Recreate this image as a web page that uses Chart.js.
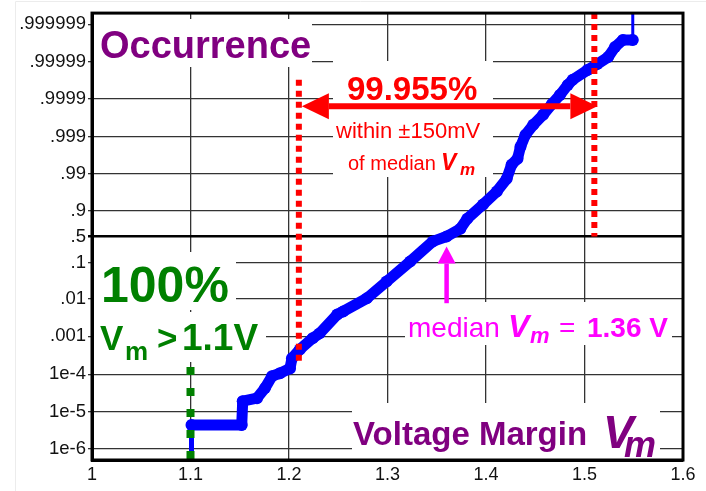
<!DOCTYPE html>
<html>
<head>
<meta charset="utf-8">
<script src="https://cdn.jsdelivr.net/npm/chart.js@4.4.1/dist/chart.umd.min.js"></script>
<style>
  html, body { margin: 0; padding: 0; background: #fff; }
  #wrap { position: relative; width: 706px; height: 491px; }
</style>
</head>
<body>
<div id="wrap"><canvas id="c"></canvas></div>
<script>
// Cumulative occurrence of the voltage margin Vm on a probability-style axis.

// Probability axis: tick labels and where each sits on the axis.
const probTickLabels = ['1e-6', '1e-5', '1e-4', '.001', '.01', '.1', '.5', '.9', '.99', '.999', '.9999', '.99999', '.999999'];
const probTickPos    = [-5.7, -4.7, -3.7, -2.68, -1.68, -0.7, 0, 0.7, 1.68, 2.68, 3.7, 4.7, 5.7];

// Voltage axis ticks (V).
const voltTicks = [1, 1.1, 1.2, 1.3, 1.4, 1.5, 1.6];

// Measured distribution: voltage margin (V) and its position on the probability axis.
const marginV = [1.101, 1.152, 1.153, 1.1675, 1.1756, 1.1827, 1.1909, 1.201, 1.203, 1.211,
                 1.224, 1.231, 1.249, 1.255, 1.279, 1.299, 1.323, 1.346, 1.36, 1.374,
                 1.381, 1.397, 1.411, 1.421, 1.426, 1.432, 1.435, 1.44, 1.448, 1.458,
                 1.467, 1.475, 1.483, 1.488, 1.503, 1.513, 1.524, 1.531, 1.539, 1.549];
const occurrencePos = [-5.06, -5.06, -4.42, -4.34, -4.07, -3.75, -3.67, -3.54, -3.27, -3.03,
                       -2.73, -2.60, -2.09, -2.01, -1.66, -1.21, -0.67, -0.13, 0, 0.21,
                       0.48, 0.86, 1.21, 1.55, 1.93, 2.09, 2.41, 2.73, 3.0, 3.27,
                       3.56, 3.80, 4.07, 4.21, 4.47, 4.63, 4.82, 5.09, 5.28, 5.28];

// Lowest and highest samples run off the ends of the axis.
const floorV = [1.101, 1.101];
const floorPos = [-6.6, -5.06];
const tailV = [1.549, 1.549];
const tailPos = [5.28, 6.6];

// Summary figures.
const medianV = 1.36;
const windowHalfV = 0.15;
const withinShare = '99.955%';
const allAboveV = 1.1;

const FAM = '"Liberation Sans", Arial, Helvetica, sans-serif';
const PURPLE = '#800080';
const GREEN = '#008000';
const RED = '#ff0000';
const MAGENTA = '#ff00ff';
const BLUE = '#0000ff';

const pts = (xs, ys) => xs.map((x, i) => ({ x, y: ys[i] }));

const lowEdge = medianV - windowHalfV;
const highEdge = medianV + windowHalfV;

// Annotation text: white backing boxes (px) and text runs.
const TEXTS = [
  { box: [94, 19, 312, 67], runs: [
    { t: 'Occurrence', f: 'bold 38px', c: PURPLE, x: 100, y: 58 } ] },
  { box: [94, 252, 236, 310], runs: [
    { t: '100%', f: 'bold 50px', c: GREEN, x: 101, y: 302 } ] },
  { box: [94, 312, 266, 362], runs: [
    { t: 'V', f: 'bold 35px', c: GREEN, x: 100, y: 350 },
    { t: 'm', f: 'bold 26px', c: GREEN, x: 125, y: 360 },
    { t: '>', f: 'bold 35px', c: GREEN, x: 157, y: 350 },
    { t: allAboveV + 'V', f: 'bold 37px', c: GREEN, x: 182, y: 350 } ] },
  { box: [333, 61, 493, 177], runs: [
    { t: withinShare, f: 'bold 33px', c: RED, x: 347, y: 100 },
    { t: 'within \u00b1' + Math.round(windowHalfV * 1000) + 'mV', f: '22px', c: RED, x: 336, y: 138 },
    { t: 'of median', f: '20px', c: RED, x: 348, y: 170 },
    { t: 'V', f: 'italic bold 23px', c: RED, x: 441, y: 170 },
    { t: 'm', f: 'italic bold 17px', c: RED, x: 460, y: 175 } ] },
  { box: [405, 302, 672, 345], runs: [
    { t: 'median', f: '28px', c: MAGENTA, x: 408, y: 337 },
    { t: 'V', f: 'italic bold 32px', c: MAGENTA, x: 508, y: 337 },
    { t: 'm', f: 'italic bold 22px', c: MAGENTA, x: 530, y: 343 },
    { t: '=', f: '28px', c: MAGENTA, x: 559, y: 337 },
    { t: medianV.toFixed(2) + ' V', f: 'bold 28px', c: MAGENTA, x: 587, y: 337 } ] },
  { box: [352, 403, 660, 459], runs: [
    { t: 'Voltage Margin', f: 'bold 33px', c: PURPLE, x: 353, y: 445 },
    { t: 'V', f: 'italic bold 46px', c: PURPLE, x: 603, y: 448 },
    { t: 'm', f: 'italic bold 36px', c: PURPLE, x: 624, y: 457 } ] }
];

function arrow(ctx, x1, y1, x2, y2, shaft, headLen, headHalf, color, both) {
  const ang = Math.atan2(y2 - y1, x2 - x1);
  const cos = Math.cos(ang), sin = Math.sin(ang);
  const sx = both ? x1 + cos * headLen : x1, sy = both ? y1 + sin * headLen : y1;
  const ex = x2 - cos * headLen, ey = y2 - sin * headLen;
  ctx.save();
  ctx.strokeStyle = color; ctx.fillStyle = color;
  ctx.lineWidth = shaft; ctx.lineCap = 'butt';
  ctx.beginPath(); ctx.moveTo(sx, sy); ctx.lineTo(ex, ey); ctx.stroke();
  const head = (tx, ty, dir) => {
    const bx = tx - dir * cos * headLen, by = ty - dir * sin * headLen;
    ctx.beginPath();
    ctx.moveTo(tx, ty);
    ctx.lineTo(bx - sin * headHalf, by + cos * headHalf);
    ctx.lineTo(bx + sin * headHalf, by - cos * headHalf);
    ctx.closePath(); ctx.fill();
  };
  head(x2, y2, 1);
  if (both) head(x1, y1, -1);
  ctx.restore();
}

const annotations = {
  id: 'annotations',
  beforeDraw(chart) {
    const ctx = chart.ctx;
    ctx.save();
    ctx.strokeStyle = '#ececec'; ctx.lineWidth = 1;
    ctx.beginPath();
    ctx.moveTo(15.5, 491); ctx.lineTo(15.5, 1.5); ctx.lineTo(706, 1.5);
    ctx.stroke();
    ctx.restore();
  },
  beforeDatasetsDraw(chart) {
    const ctx = chart.ctx;
    ctx.save();
    ctx.fillStyle = '#ffffff';
    TEXTS.forEach(g => {
      const [l, t, r, b] = g.box;
      ctx.fillRect(l, t, r - l, b - t);
    });
    ctx.restore();
  },
  afterDatasetsDraw(chart) {
    const ctx = chart.ctx;
    const xs = chart.scales.x, ys = chart.scales.y;
    // ±150 mV window around the median
    arrow(ctx, xs.getPixelForValue(lowEdge) + 3, ys.getPixelForValue(3.5),
               xs.getPixelForValue(highEdge) + 3, ys.getPixelForValue(3.5),
               6, 27, 13, RED, true);
    // pointer to the median crossing
    arrow(ctx, xs.getPixelForValue(medianV), ys.getPixelForValue(-1.79),
               xs.getPixelForValue(medianV), ys.getPixelForValue(-0.27),
               4.5, 17, 9, MAGENTA, false);
    ctx.save();
    ctx.textBaseline = 'alphabetic';
    ctx.textAlign = 'left';
    TEXTS.forEach(g => g.runs.forEach(r => {
      ctx.font = r.f + ' ' + FAM;
      ctx.fillStyle = r.c;
      ctx.fillText(r.t, r.x, r.y);
    }));
    ctx.restore();
  },
  afterDraw(chart) {
    const { left, top, right, bottom } = chart.chartArea;
    const ctx = chart.ctx;
    ctx.save();
    ctx.strokeStyle = '#000'; ctx.lineWidth = 3;
    ctx.strokeRect(left, top, right - left, bottom - top);
    ctx.restore();
  }
};

new Chart(document.getElementById('c'), {
  type: 'scatter',
  data: {
    datasets: [
      { // all samples above 1.1 V
        data: pts([allAboveV, allAboveV], [-3.5, -6]),
        showLine: true, borderColor: GREEN, borderWidth: 8, borderDash: [8, 13],
        borderCapStyle: 'butt', pointRadius: 0
      },
      { // lower edge of the window
        data: pts([lowEdge, lowEdge], [4.21, -3.41]),
        showLine: true, borderColor: RED, borderWidth: 6, borderDash: [6, 5],
        borderCapStyle: 'butt', pointRadius: 0
      },
      { // upper edge of the window
        data: pts([highEdge, highEdge], [6, 0]),
        showLine: true, borderColor: RED, borderWidth: 6, borderDash: [6, 5],
        borderCapStyle: 'butt', pointRadius: 0
      },
      { // top tail
        data: pts(tailV, tailPos),
        showLine: true, borderColor: BLUE, borderWidth: 3, pointRadius: 0
      },
      { // bottom tail
        data: pts(floorV, floorPos),
        showLine: true, borderColor: BLUE, borderWidth: 5, pointRadius: 0
      },
      { // measured distribution
        data: pts(marginV, occurrencePos),
        showLine: true, borderColor: BLUE, borderWidth: 11,
        borderJoinStyle: 'round', borderCapStyle: 'round',
        pointRadius: 6, pointBackgroundColor: BLUE, pointBorderWidth: 0,
        tension: 0
      }
    ]
  },
  options: {
    responsive: true,
    maintainAspectRatio: false,
    animation: false,
    devicePixelRatio: 1,
    layout: { padding: { left: 0, top: 10, right: 23, bottom: 0 } },
    plugins: { legend: { display: false }, tooltip: { enabled: false } },
    scales: {
      x: {
        type: 'linear', min: voltTicks[0], max: voltTicks[voltTicks.length - 1],
        afterBuildTicks: s => { s.ticks = voltTicks.map(v => ({ value: v })); },
        afterFit: s => { s.height = 31; },
        ticks: {
          color: '#111', padding: 4, font: { family: FAM, size: 18 },
          callback: v => String(Number(v.toFixed(1)))
        },
        grid: { color: '#333', lineWidth: 1.3, drawTicks: false },
        border: { display: true, color: '#000', width: 3 }
      },
      y: {
        type: 'linear', min: -6, max: 6,
        afterBuildTicks: s => { s.ticks = probTickPos.map(v => ({ value: v })); },
        afterFit: s => { s.width = 92; },
        ticks: {
          color: '#111', padding: 2, font: { family: FAM, size: 18.5 },
          callback: (v, i) => probTickLabels[i]
        },
        grid: {
          color: c => (c.tick && c.tick.value === 0) ? '#000' : '#333',
          lineWidth: c => (c.tick && c.tick.value === 0) ? 2.5 : 1.3,
          tickLength: 4, drawTicks: true
        },
        border: { display: true, color: '#000', width: 3 }
      }
    }
  },
  plugins: [annotations]
});
</script>
</body>
</html>
